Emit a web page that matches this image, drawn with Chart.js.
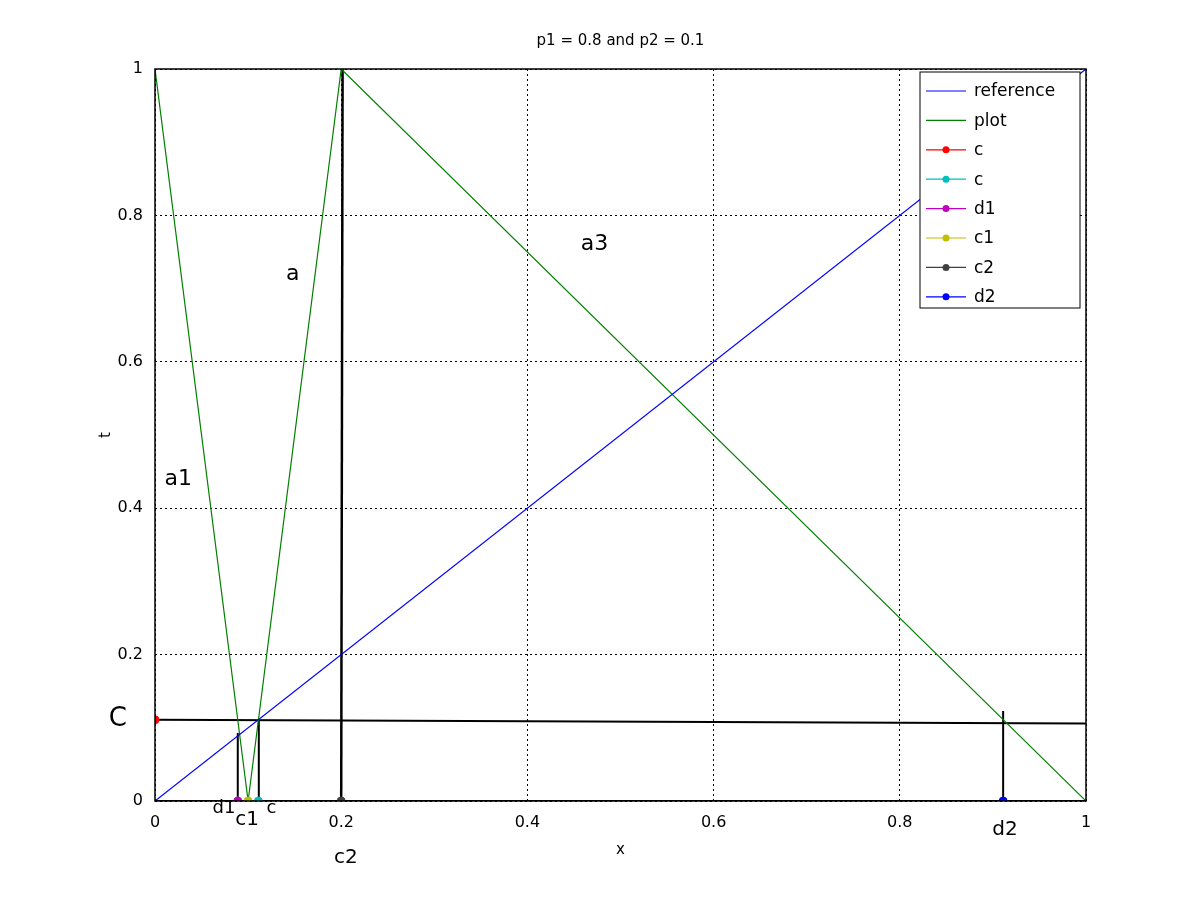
<!DOCTYPE html>
<html><head><meta charset="utf-8">
<script src="https://cdn.jsdelivr.net/npm/chart.js@4"></script>
<style>html,body{margin:0;background:#fff}#w{width:1200px;height:900px}</style>
</head><body><div id="w"><canvas id="c"></canvas></div>
<script>
const titleText = "p1 = 0.8 and p2 = 0.1";
const tickValues = [0, 0.2, 0.4, 0.6, 0.8, 1];
const referenceX = [0, 1], referenceY = [0, 1];
const plotX = [0, 0.1, 0.2, 1], plotY = [1, 0, 1, 0];
const lineCX = [0, 1], lineCY = [0.111, 0.106];
const vertD1X = [0.0889, 0.0889], vertD1Y = [0, 0.093];
const vertCX = [0.111, 0.1115], vertCY = [0, 0.111];
const vertC2X = [0.2, 0.2015], vertC2Y = [0, 1];
const vertD2X = [0.911, 0.911], vertD2Y = [0, 0.123];
const baseX = [0, 1], baseY = [0, 0];
const markerNames = ["c", "c", "d1", "c1", "c2", "d2"];
const markerX = [0, 0.111, 0.0889, 0.1, 0.2, 0.911];
const markerY = [0.111, 0, 0, 0, 0, 0];
const markerColors = ["#ff0000", "#00bfbf", "#bf00bf", "#bfbf00", "#404040", "#0000ff"];
const annoText = ["a1", "a", "a3", "C", "d1", "c1", "c", "c2", "d2"];
const annoX = [0.025, 0.148, 0.472, -0.04, 0.074, 0.099, 0.125, 0.205, 0.913];
const annoY = [0.44, 0.72, 0.76, 0.112, -0.01, -0.026, -0.01, -0.077, -0.039];
const annoSize = [22, 22, 22, 26, 18, 20, 18, 20, 20];

const pts = (xs, ys) => xs.map((x, i) => ({x, y: ys[i]}));
const lineDs = (label, xs, ys, color) => ({label, data: pts(xs, ys), borderColor: color, backgroundColor: color, showLine: true, pointRadius: 0, borderWidth: 1.2, tension: 0, order: 5});
const datasets = [
  lineDs("reference", referenceX, referenceY, "#0000ff"),
  lineDs("plot", plotX, plotY, "#008000"),
  {...lineDs("C", lineCX, lineCY, "#000"), borderWidth: 2},
  {...lineDs("v1", vertD1X, vertD1Y, "#000"), borderWidth: 2},
  {...lineDs("v2", vertCX, vertCY, "#000"), borderWidth: 2},
  {...lineDs("v3", vertC2X, vertC2Y, "#000"), borderWidth: 2.5},
  {...lineDs("v4", vertD2X, vertD2Y, "#000"), borderWidth: 2},
  {...lineDs("base", baseX, baseY, "#000"), borderWidth: 2},
];
markerNames.forEach((n, i) => datasets.push({label: n, data: [{x: markerX[i], y: markerY[i]}], backgroundColor: markerColors[i], borderColor: markerColors[i], pointRadius: 4, showLine: false, order: 0}));

const legendItems = [["reference", "#0000ff", false], ["plot", "#008000", false]].concat(markerNames.map((n, i) => [n, markerColors[i], true]));

const overlay = {
  id: "overlay",
  afterDraw(chart) {
    const {ctx, scales: {x, y}, chartArea: a} = chart;
    ctx.save();
    ctx.strokeStyle = "#000"; ctx.lineWidth = 1.5;
    ctx.strokeRect(a.left, a.top, a.right - a.left, a.bottom - a.top);
    ctx.fillStyle = "#000"; ctx.textAlign = "center"; ctx.textBaseline = "middle";
    ctx.font = "15px 'DejaVu Sans'";
    ctx.fillText(titleText, (a.left + a.right) / 2, 41);
    ctx.fillText("x", (a.left + a.right) / 2, 850);
    ctx.save(); ctx.translate(106, (a.top + a.bottom) / 2); ctx.rotate(-Math.PI / 2); ctx.fillText("t", 0, 0); ctx.restore();
    annoText.forEach((t, i) => { ctx.font = annoSize[i] + "px 'DejaVu Sans'"; ctx.fillText(t, x.getPixelForValue(annoX[i]), y.getPixelForValue(annoY[i])); });
    const lx = 920, ly = 72, lw = 160, lh = 236;
    ctx.fillStyle = "#fff"; ctx.fillRect(lx, ly, lw, lh);
    ctx.strokeStyle = "#000"; ctx.lineWidth = 1; ctx.strokeRect(lx, ly, lw, lh);
    ctx.font = "17px 'DejaVu Sans'"; ctx.textAlign = "left";
    legendItems.forEach(([t, c, m], i) => {
      const yy = ly + 19 + i * 29.4;
      ctx.strokeStyle = c; ctx.lineWidth = 1.2;
      ctx.beginPath(); ctx.moveTo(926, yy); ctx.lineTo(966, yy); ctx.stroke();
      if (m) { ctx.fillStyle = c; ctx.beginPath(); ctx.arc(946, yy, 3.5, 0, Math.PI * 2); ctx.fill(); }
      ctx.fillStyle = "#000"; ctx.fillText(t, 974, yy + 1);
    });
    ctx.restore();
  }
};

new Chart(document.getElementById("c"), {
  type: "scatter",
  data: {datasets},
  options: {
    responsive: true, maintainAspectRatio: false, animation: false,
    layout: {padding: {top: 69, right: 114, left: 0, bottom: 0}},
    plugins: {legend: {display: false}, tooltip: {enabled: false}},
    scales: {
      x: {type: "linear", min: 0, max: 1, afterBuildTicks: s => { s.ticks = tickValues.map(v => ({value: v})); },
        afterFit: s => { s.height = 99; },
        grid: {color: "#000", lineWidth: 1, tickLength: 0, drawTicks: false}, border: {display: false, dash: [2, 3]},
        ticks: {color: "#000", font: {size: 16, family: "DejaVu Sans"}, padding: 12, maxRotation: 0, callback: v => String(v)}},
      y: {type: "linear", min: 0, max: 1, afterBuildTicks: s => { s.ticks = tickValues.map(v => ({value: v})); },
        afterFit: s => { s.width = 155; },
        grid: {color: "#000", lineWidth: 1, drawTicks: false}, border: {display: false, dash: [2, 3]},
        ticks: {color: "#000", font: {size: 16, family: "DejaVu Sans"}, padding: 12, callback: v => String(v)}}
    }
  },
  plugins: [overlay]
});
</script></body></html>
